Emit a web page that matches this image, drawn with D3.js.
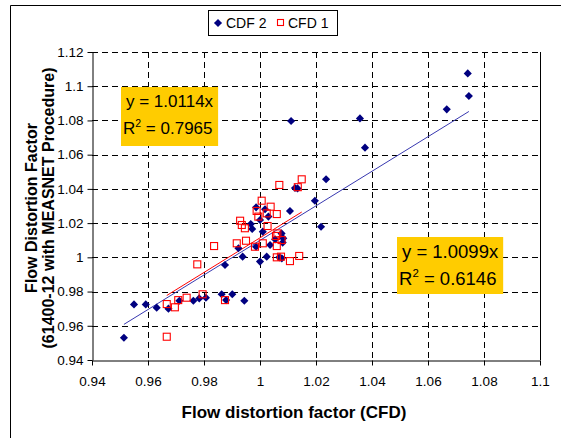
<!DOCTYPE html>
<html>
<head>
<meta charset="utf-8">
<script src="https://cdn.jsdelivr.net/npm/d3@7"></script>
<style>
  body { margin: 0; background: #fff; }
  svg { font-family: "Liberation Sans", Arial, sans-serif; display: block; }
</style>
</head>
<body>
<svg id="chart" width="561" height="438"></svg>
<script>
const WIDTH = 561;
const HEIGHT = 438;

const xTicks = [0.94, 0.96, 0.98, 1, 1.02, 1.04, 1.06, 1.08, 1.1];
const yTicks = [0.94, 0.96, 0.98, 1, 1.02, 1.04, 1.06, 1.08, 1.1, 1.12];

// CDF 2 points [CFD, 61400-12]
const cdf2 = [
    [0.9514, 0.953], [0.955, 0.9725], [0.9592, 0.9725], [0.9631, 0.9706], [0.9673, 0.970],
    [0.9712, 0.9746], [0.9762, 0.9746], [0.9783, 0.976], [0.9807, 0.9764], [0.9863, 0.9784],
    [0.9879, 0.975], [0.9901, 0.9784], [0.9944, 0.9746], [0.9875, 0.9955], [0.9938, 1.0004],
    [1.0, 0.9975], [1.0024, 1.0004], [1.0069, 1.0], [1.0078, 0.9994], [0.9923, 1.0053],
    [0.9986, 1.0062], [1.0036, 1.0072], [1.0081, 1.0086], [1.0054, 1.0105], [1.0083, 1.0111],
    [1.001, 1.015], [1.0077, 1.014], [0.9967, 1.0195], [0.9972, 1.0166], [1.0, 1.0218],
    [1.003, 1.0238], [0.9986, 1.0292], [1.0018, 1.0281], [1.0107, 1.0271], [1.0134, 1.0403],
    [1.0125, 1.0405], [1.0196, 1.0331], [1.0218, 1.0179], [1.0236, 1.0456], [1.0111, 1.0797],
    [1.0357, 1.0812], [1.0375, 1.0641], [1.0667, 1.0865], [1.0742, 1.1075], [1.0746, 1.0943]
];

// CFD 1 points
const cfd1 = [
    [0.9667, 0.9536], [0.9667, 0.9727], [0.9696, 0.9708], [0.9708, 0.975], [0.9738, 0.9764],
    [0.9795, 0.9784], [0.9776, 0.9959], [0.9875, 0.975], [0.9836, 1.0066], [0.9917, 1.0082],
    [0.995, 1.0097], [0.9982, 1.0062], [1.001, 1.0082], [1.006, 1.0066], [0.9929, 1.0214],
    [0.9935, 1.0189], [0.9946, 1.017], [0.9994, 1.0238], [1.0027, 1.0183], [1.0062, 1.014],
    [1.0057, 1.0125], [1.0077, 1.0101], [0.9988, 1.0271], [1.0024, 1.0257], [1.0038, 1.0296],
    [1.006, 1.0253], [1.0006, 1.0331], [1.0069, 1.0423], [1.0135, 1.041], [1.0149, 1.0456],
    [1.006, 1.0], [1.0075, 1.0004], [1.0107, 0.9978], [1.014, 1.0008]
];

const trends = [
    { name: "CDF 2", slope: 1.0099, r2: "0.6146", color: "#3838b0", data: cdf2 },
    { name: "CFD 1", slope: 1.0114, r2: "0.7965", color: "#ff0000", data: cfd1 }
];

const svg = d3.select("#chart");

// outer chart frame
svg.append("path")
    .attr("d", `M10.5,${HEIGHT} V5.5 H${WIDTH}`)
    .attr("fill", "none")
    .attr("stroke", "#000");

const x = d3.scaleLinear().domain([0.94, 1.1]).range([92, 540]);
const y = d3.scaleLinear().domain([0.94, 1.12]).range([360, 52]);

// grid lines (dashed)
const grid = svg.append("g");
grid.selectAll(".gx")
    .data(xTicks.slice(1))
    .join("line")
    .attr("x1", d => Math.round(x(d)) + 0.5).attr("x2", d => Math.round(x(d)) + 0.5)
    .attr("y1", y(1.12)).attr("y2", y(0.94))
    .attr("stroke", "#000")
    .attr("stroke-dasharray", "6,4");
grid.selectAll(".gy")
    .data(yTicks.slice(1))
    .join("line")
    .attr("y1", d => Math.round(y(d)) + 0.5).attr("y2", d => Math.round(y(d)) + 0.5)
    .attr("x1", x(0.94)).attr("x2", x(1.1))
    .attr("stroke", "#000")
    .attr("stroke-dasharray", "6,4");

// right border of the plot area
svg.append("line")
    .attr("x1", x(1.1) + 0.5).attr("x2", x(1.1) + 0.5)
    .attr("y1", y(1.12)).attr("y2", y(0.94))
    .attr("stroke", "#000");

// axes
const xAxis = svg.append("g")
    .attr("transform", `translate(0,${y(0.94) + 0.5})`)
    .call(d3.axisBottom(x).tickValues(xTicks).tickFormat(d3.format("")).tickSizeInner(5).tickSizeOuter(0));
const yAxis = svg.append("g")
    .attr("transform", `translate(${x(0.94) + 0.5},0)`)
    .call(d3.axisLeft(y).tickValues(yTicks).tickFormat(d3.format("")).tickSizeInner(5).tickSizeOuter(0));

[xAxis, yAxis].forEach(a => {
    a.selectAll("path, line").attr("stroke", "#000");
    a.selectAll("text").attr("font-size", 13.5).attr("fill", "#000")
        .attr("font-family", "Liberation Sans, Arial, sans-serif");
});
xAxis.selectAll("text").attr("dy", "1.3em");
yAxis.selectAll("text").attr("x", -9);

// trend lines, over the range of each series
trends.forEach(t => {
    const ext = d3.extent(t.data, d => d[0]);
    svg.append("line")
        .attr("x1", x(ext[0])).attr("y1", y(ext[0] * t.slope))
        .attr("x2", x(ext[1])).attr("y2", y(ext[1] * t.slope))
        .attr("stroke", t.color)
        .attr("stroke-width", 1);
});

// points
const diamond = d3.symbol().type(d3.symbolDiamond2).size(42);
svg.append("g").selectAll("path")
    .data(cdf2)
    .join("path")
    .attr("d", diamond)
    .attr("transform", d => `translate(${x(d[0])},${y(d[1])})`)
    .attr("fill", "#000080");

svg.append("g").selectAll("rect")
    .data(cfd1)
    .join("rect")
    .attr("x", d => x(d[0]) - 3.5)
    .attr("y", d => y(d[1]) - 3.5)
    .attr("width", 7)
    .attr("height", 7)
    .attr("fill", "none")
    .attr("stroke", "#ff0000")
    .attr("stroke-width", 1.1);

// equation boxes - box sized to fit its text
function eqBox(t, bx, by, bh, fs, line1, line2) {
    const g = svg.append("g");
    const rect = g.append("rect").attr("x", bx).attr("y", by).attr("height", bh).attr("fill", "#ffcc00");
    const t1 = g.append("text").attr("x", bx + 5).attr("y", by + line1)
        .attr("font-size", fs).text(`y = ${t.slope.toFixed(4)}x`);
    const r = g.append("text").attr("x", bx + 2).attr("y", by + line2).attr("font-size", fs);
    r.append("tspan").text("R");
    r.append("tspan").attr("font-size", fs * 0.62).attr("dy", -fs * 0.42).text("2");
    r.append("tspan").attr("dy", fs * 0.42).text(` = ${t.r2}`);
    const w = Math.max(t1.node().getComputedTextLength() + 5, r.node().getComputedTextLength() + 2);
    rect.attr("width", w + 5);
}
eqBox(trends[1], 121, 87, 59, 17, 20, 47);
eqBox(trends[0], 397, 237, 57, 18.5, 21, 48);

// legend
const lg = svg.append("g");
lg.append("rect").attr("x", 208.5).attr("y", 10.5).attr("width", 129).attr("height", 25)
    .attr("fill", "#fff").attr("stroke", "#000");
lg.append("path").attr("d", diamond).attr("transform", "translate(218,23)").attr("fill", "#000080");
lg.append("text").attr("x", 226).attr("y", 28).attr("font-size", 14).text("CDF 2");
lg.append("rect").attr("x", 277.5).attr("y", 19.5).attr("width", 6).attr("height", 6)
    .attr("fill", "none").attr("stroke", "#ff0000").attr("stroke-width", 1.1);
lg.append("text").attr("x", 288).attr("y", 28).attr("font-size", 14).text("CFD 1");

// axis titles
svg.append("text")
    .attr("x", 294).attr("y", 418)
    .attr("text-anchor", "middle")
    .attr("font-size", 17).attr("font-weight", "bold")
    .text("Flow distortion factor (CFD)");

const yt = svg.append("text")
    .attr("transform", "translate(37,208) rotate(-90)")
    .attr("text-anchor", "middle")
    .attr("font-size", 16).attr("font-weight", "bold");
yt.append("tspan").attr("x", 0).attr("dy", 0).text("Flow Distortion Factor");
yt.append("tspan").attr("x", 0).attr("dy", 17).text("(61400-12 with MEASNET Procedure)");
</script>
</body>
</html>
